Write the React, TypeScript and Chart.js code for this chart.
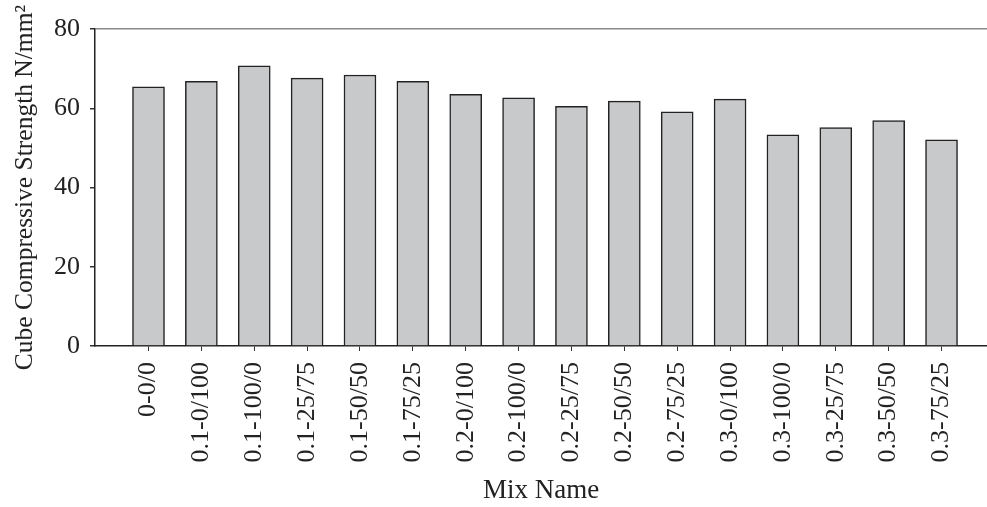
import React, { useEffect, useRef } from "react";
import { Chart, registerables } from "chart.js";

Chart.register(...registerables);

const categories = [
  "0-0/0", "0.1-0/100", "0.1-100/0", "0.1-25/75", "0.1-50/50", "0.1-75/25",
  "0.2-0/100", "0.2-100/0", "0.2-25/75", "0.2-50/50", "0.2-75/25",
  "0.3-0/100", "0.3-100/0", "0.3-25/75", "0.3-50/50", "0.3-75/25",
];
const strength = [65.4, 66.8, 70.7, 67.6, 68.4, 66.8, 63.5, 62.6, 60.5, 61.8, 59.1, 62.3, 53.3, 55.1, 56.9, 52.0];
const yTicks = [0, 20, 40, 60, 80];

const FONT = "'Liberation Serif', 'Times New Roman', serif";

export default function App() {
  const ref = useRef<HTMLCanvasElement | null>(null);
  useEffect(() => {
    if (!ref.current) return;
    const chart = new Chart(ref.current, {
      type: "bar",
      data: {
        datasets: [
          {
            data: strength.map((v, i) => ({ x: i, y: v })),
            backgroundColor: "#c8c9cb",
            borderColor: "#222222",
            borderWidth: 1.5,
            barThickness: 32,
          },
        ],
      },
      options: {
        animation: false,
        responsive: false,
        devicePixelRatio: 1,
        layout: { padding: { top: 29, right: 0, left: 0, bottom: 0 } },
        plugins: { legend: { display: false }, tooltip: { enabled: false } },
        scales: {
          x: {
            type: "linear",
            offset: false,
            min: -1.012,
            max: 15.86,
            afterBuildTicks: (scale: any) => {
              scale.ticks = categories.map((_, i) => ({ value: i }));
            },
            afterFit: (scale: any) => {
              scale.height = 161;
            },
            ticks: {
              autoSkip: false,
              minRotation: 90,
              maxRotation: 90,
              padding: 11,
              color: "#222",
              font: { family: FONT, size: 26 },
              callback: (v: any) => categories[v as number] ?? "",
            },
            grid: { offset: false, drawOnChartArea: false, tickLength: 5, tickColor: "#333", tickWidth: 1 },
            border: { color: "#222", width: 1.5 },
            title: {
              display: true,
              text: "Mix Name",
              color: "#222",
              font: { family: FONT, size: 27 },
              padding: { top: 0, bottom: 0 },
            },
          },
          y: {
            min: 0,
            max: 80,
            afterBuildTicks: (scale: any) => {
              scale.ticks = yTicks.map((v) => ({ value: v }));
            },
            afterFit: (scale: any) => {
              scale.width = 95;
            },
            ticks: {
              padding: 10,
              color: "#222",
              font: { family: FONT, size: 26 },
            },
            grid: {
              drawOnChartArea: true,
              color: (ctx: any) => (ctx.tick && ctx.tick.value === 80 ? "#888888" : "rgba(0,0,0,0)"),
              tickColor: "#333",
              tickLength: 5,
              lineWidth: 1.5,
            },
            border: { color: "#222", width: 1.5 },
            title: {
              display: true,
              text: "Cube Compressive Strength N/mm²",
              color: "#222",
              font: { family: FONT, size: 25.5 },
              padding: { top: 10, bottom: 0 },
            },
          },
        },
      },
    });
    return () => chart.destroy();
  }, []);
  return (
    <div style={{ position: "absolute", left: 0, top: 0, width: 987, height: 507, background: "#fff" }}>
      <canvas ref={ref} width={987} height={507} />
    </div>
  );
}
